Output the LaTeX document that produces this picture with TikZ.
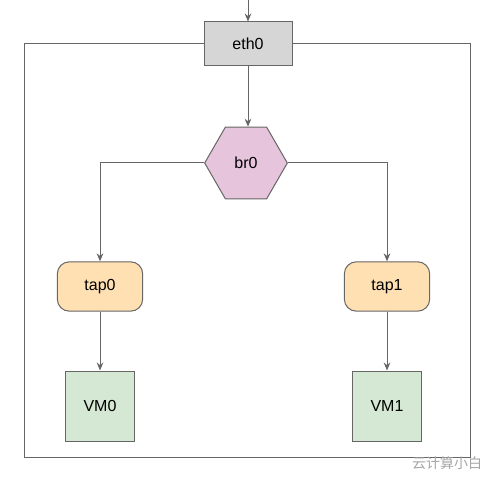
\documentclass[tikz,border=0pt]{standalone}
\usepackage{fontspec}
\setmainfont{Liberation Sans}
\newfontfamily\cjkfont{Noto Sans CJK SC}
\usetikzlibrary{arrows.meta,shapes.geometric}

\definecolor{linegray}{RGB}{102,102,102}
\definecolor{ethfill}{RGB}{214,214,214}
\definecolor{brfill}{RGB}{230,196,220}
\definecolor{tapfill}{RGB}{255,224,178}
\definecolor{vmfill}{RGB}{213,232,212}

\tikzset{
  box/.style={draw=linegray, line width=0.75pt, inner sep=0.75pt, font=\fontsize{12}{14}\selectfont},
  ethbox/.style={box, fill=ethfill, minimum width=66pt, minimum height=33pt},
  brbox/.style={box, fill=brfill, regular polygon, regular polygon sides=6, minimum size=62pt, inner sep=0pt},
  tapbox/.style={box, fill=tapfill, rounded corners=9pt, minimum width=64pt, minimum height=37pt},
  vmbox/.style={box, fill=vmfill, minimum width=52pt, minimum height=52.5pt},
  arr/.style={draw=linegray, line width=0.75pt, -{Stealth[length=6pt,width=5pt]}},
}

\begin{document}
\begin{tikzpicture}[x=0.75pt,y=0.75pt,yscale=-1,xscale=1]
\useasboundingbox (0,0) rectangle (502,477);

%Shape: Rectangle [frame]
\draw [draw=linegray, line width=0.75pt] (24,44) rectangle (470,457);

% Nodes
\node [ethbox] (eth0) at (248,44) {eth0};
\node [brbox] (br0) at (246,163) {br0};
\node [tapbox] (tap0) at (100,286.5) {tap0};
\node [tapbox] (tap1) at (387,286.5) {tap1};
\node [vmbox] (vm0) at (100,406) {VM0};
\node [vmbox] (vm1) at (387,406) {VM1};
\coordinate (uplink) at (248,0);

% Connectors
\draw [arr] (uplink) -- (eth0.north);
\draw [arr] (eth0.south) -- (eth0.south |- br0.north);
\draw [arr] (br0.west) -| (tap0.north);
\draw [arr] (br0.east) -| (tap1.north);
\draw [arr] (tap0.south) -- (vm0.north);
\draw [arr] (tap1.south) -- (vm1.north);

% Text Node
\node [text=gray!70, font=\cjkfont\fontsize{10.5}{12}\selectfont] (mark) at (447,463) {云计算小白};

\end{tikzpicture}
\end{document}
